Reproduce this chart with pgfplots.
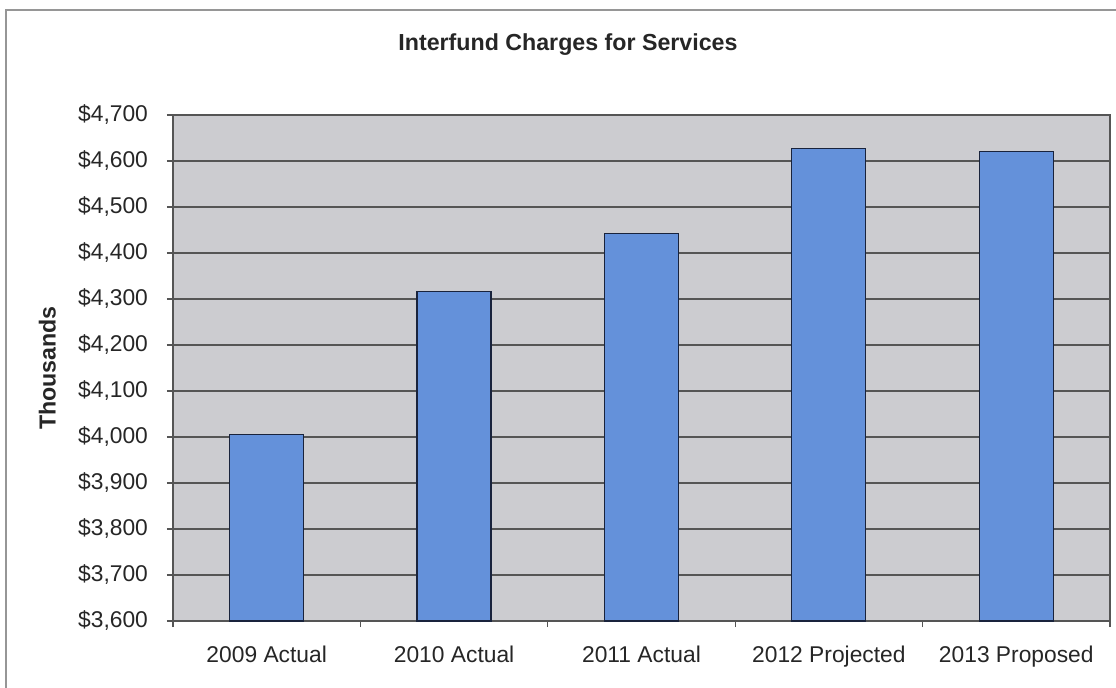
\documentclass[border=0pt]{standalone}
\usepackage{pgfplots}
\pgfplotsset{compat=1.18}
\usepackage{fontspec}
\setmainfont{Liberation Sans}
\definecolor{plotbg}{RGB}{204,204,208}
\definecolor{gridc}{RGB}{85,85,85}
\definecolor{barfill}{RGB}{100,145,218}
\definecolor{baredge}{RGB}{25,35,60}
\definecolor{framec}{RGB}{150,150,150}
\begin{document}
\begin{tikzpicture}[x=0.5pt,y=0.5pt]
\useasboundingbox (0,0) rectangle (1116,687);
\draw[framec,line width=0.8pt] (6,-20) -- (6,677) -- (1140,677);
\node[font=\fontsize{11.6}{13}\selectfont\bfseries, text=black!85] at (568,642) {Interfund Charges for Services};
\begin{axis}[
  at={(86.5pt,33pt)}, anchor=south west,
  scale only axis, width=468.5pt, height=253pt,
  ymin=3600, ymax=4700,
  xmin=-0.5, xmax=4.5,
  axis background/.style={fill=plotbg},
  axis line style={draw=gridc, line width=0.6pt},
  ytick={3600,3700,...,4700},
  yticklabels={{\$3,600},{\$3,700},{\$3,800},{\$3,900},{\$4,000},{\$4,100},{\$4,200},{\$4,300},{\$4,400},{\$4,500},{\$4,600},{\$4,700}},
  ymajorgrids, grid style={gridc, line width=0.6pt},
  xtick={0,1,2,3,4},
  xticklabels={2009 Actual,2010 Actual,2011 Actual,2012 Projected,2013 Proposed},
  minor xtick={-0.5,0.5,1.5,2.5,3.5,4.5},
  xtick style={draw=none},
  minor x tick style={draw=gridc, line width=0.6pt},
  ytick style={draw=gridc, line width=0.6pt},
  xtick pos=bottom, ytick pos=left,
  tick align=outside, major tick length=3pt, minor tick length=3pt,
  ticklabel style={font=\fontsize{11.4}{12}\selectfont, text=black!85},
  yticklabel style={xshift=-6pt},
  xticklabel style={yshift=-6pt},
  ylabel={\bfseries Thousands},
  ylabel style={font=\fontsize{11.6}{13}\selectfont, text=black!85, at={(-55pt,0.5)}, anchor=south},
  clip=false,
]
\addplot[ybar, bar width=37pt, fill=barfill, draw=baredge, line width=0.6pt, bar shift=0pt]
 coordinates {(0,4006) (1,4316) (2,4442) (3,4627) (4,4620)};
\end{axis}
\end{tikzpicture}
\end{document}
